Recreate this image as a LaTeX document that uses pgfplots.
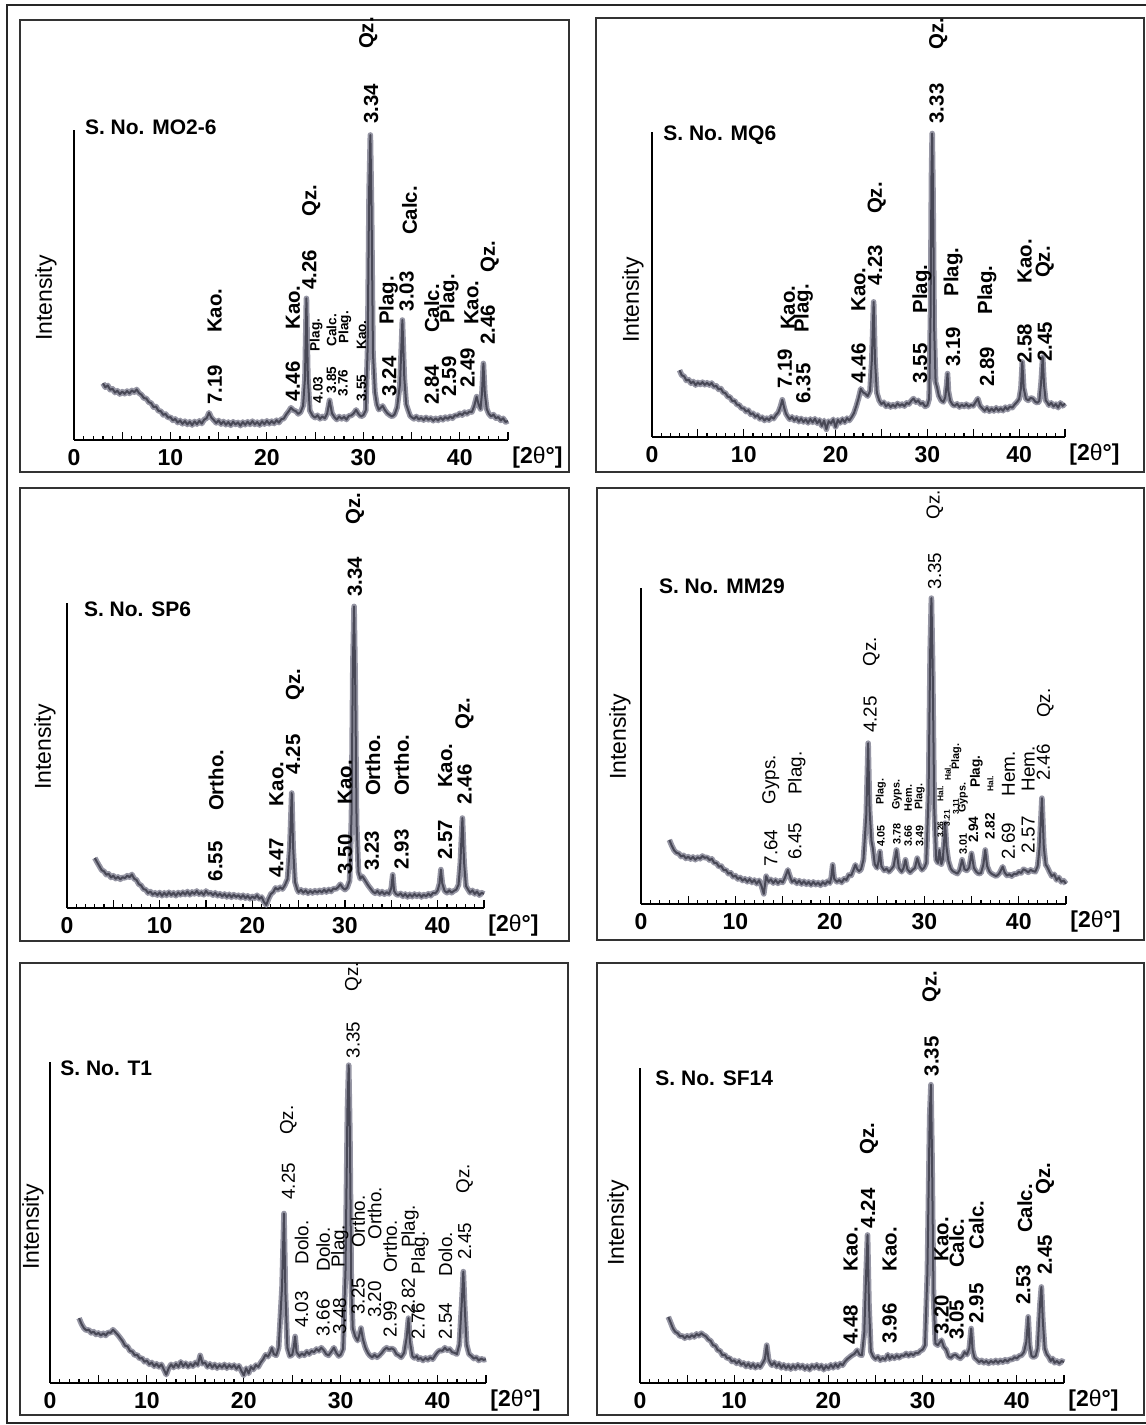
\documentclass[border=0pt]{standalone}
\usepackage{fontspec}
\setmainfont{Liberation Sans}
\usepackage{pgfplots}
\usepackage{pgfplotstable}
\pgfplotsset{compat=1.18}
\definecolor{cdark}{RGB}{72,72,86}
\definecolor{clight}{RGB}{150,150,164}

\pgfplotstableread[row sep=\\]{x y\\
3.0 18.3\\ 3.25 17.0\\ 3.5 17.6\\ 3.75 16.2\\ 4.0 16.5\\ 4.25 15.3\\ 4.5 15.9\\ 4.75 14.8\\ 5.0 15.6\\ 5.25 14.9\\ 5.5 15.8\\ 5.75 15.0\\ 6.0 16.0\\ 6.25 15.4\\ 6.5 16.3\\ 6.75 15.1\\ 7.0 14.6\\ 7.25 13.5\\ 7.5 13.4\\ 7.75 12.2\\ 8.0 11.9\\ 8.25 10.6\\ 8.5 10.8\\ 8.75 9.4\\ 9.0 9.3\\ 9.25 8.1\\ 9.5 8.4\\ 9.75 7.2\\ 10.0 7.4\\ 10.25 6.3\\ 10.5 6.8\\ 10.75 5.6\\ 11.0 6.3\\ 11.25 5.2\\ 11.5 6.1\\ 11.75 5.0\\ 12.0 5.9\\ 12.25 4.8\\ 12.5 6.0\\ 12.75 5.1\\ 13.0 6.2\\ 13.25 5.3\\ 13.5 6.6\\ 13.75 7.0\\ 14.0 8.8\\ 14.25 7.2\\ 14.5 6.4\\ 14.75 5.5\\ 15.0 6.3\\ 15.25 5.1\\ 15.5 6.0\\ 15.75 4.9\\ 16.0 5.8\\ 16.25 4.7\\ 16.5 5.9\\ 16.75 5.0\\ 17.0 5.7\\ 17.25 4.6\\ 17.5 5.8\\ 17.75 4.9\\ 18.0 5.9\\ 18.25 5.0\\ 18.5 6.1\\ 18.75 5.0\\ 19.0 5.8\\ 19.25 4.8\\ 19.5 6.0\\ 19.75 5.1\\ 20.0 6.2\\ 20.25 5.2\\ 20.5 6.1\\ 20.75 5.3\\ 21.0 6.4\\ 21.25 5.6\\ 21.5 6.7\\ 21.75 6.9\\ 22.0 8.2\\ 22.25 9.2\\ 22.5 10.4\\ 22.75 9.6\\ 23.0 9.3\\ 23.25 8.4\\ 23.5 9.0\\ 23.75 11.0\\ 23.95 20\\ 24.1 45.7\\ 24.25 20\\ 24.45 9.5\\ 24.75 7.8\\ 25.0 7.2\\ 25.25 8.0\\ 25.5 6.8\\ 25.75 7.6\\ 26.0 7.0\\ 26.25 8.5\\ 26.5 12.8\\ 26.75 8.6\\ 27.0 7.4\\ 27.25 6.6\\ 27.5 7.6\\ 27.75 6.8\\ 28.0 7.5\\ 28.25 6.6\\ 28.5 7.8\\ 28.75 7.9\\ 29.0 8.6\\ 29.25 9.7\\ 29.5 8.4\\ 29.75 7.6\\ 30.0 8.0\\ 30.25 9.5\\ 30.45 30\\ 30.6 80\\ 30.73 98.4\\ 30.85 75\\ 31.0 28\\ 31.2 15.5\\ 31.4 11.5\\ 31.6 9.8\\ 31.75 10.2\\ 32.0 11.0\\ 32.25 9.6\\ 32.5 8.6\\ 32.75 8.0\\ 33.0 7.6\\ 33.25 8.3\\ 33.5 10.5\\ 33.8 18\\ 34.05 38.7\\ 34.25 20\\ 34.45 11.5\\ 34.65 9.6\\ 34.85 7.8\\ 35.0 7.4\\ 35.25 6.8\\ 35.5 7.6\\ 35.75 6.6\\ 36.0 7.2\\ 36.25 6.4\\ 36.5 7.3\\ 36.75 6.5\\ 37.0 7.1\\ 37.25 6.2\\ 37.5 7.0\\ 37.75 6.3\\ 38.0 7.2\\ 38.25 6.5\\ 38.5 7.4\\ 38.75 6.8\\ 39.0 7.6\\ 39.25 7.0\\ 39.5 8.0\\ 39.75 7.8\\ 40.0 8.6\\ 40.25 8.0\\ 40.5 9.0\\ 40.75 8.4\\ 41.0 9.2\\ 41.25 9.0\\ 41.5 11.0\\ 41.75 14.0\\ 41.95 11.5\\ 42.15 10.0\\ 42.3 15\\ 42.45 24.7\\ 42.6 15\\ 42.8 10.0\\ 43.0 8.5\\ 43.25 7.6\\ 43.5 8.2\\ 43.75 7.0\\ 44.0 7.4\\ 44.25 6.3\\ 44.5 7.0\\ 44.75 5.8\\ 45.0 6.2\\
}\dA

\pgfplotstableread[row sep=\\]{x y\\
3.0 21.9\\ 3.25 20.2\\ 3.5 19.9\\ 3.75 18.5\\ 4.0 18.8\\ 4.25 17.6\\ 4.5 18.2\\ 4.75 17.0\\ 5.0 17.9\\ 5.25 17.2\\ 5.5 18.0\\ 5.75 17.1\\ 6.0 17.8\\ 6.25 17.0\\ 6.5 17.7\\ 6.75 16.5\\ 7.0 16.8\\ 7.25 15.6\\ 7.5 15.9\\ 7.75 14.6\\ 8.0 14.4\\ 8.25 13.2\\ 8.5 13.1\\ 8.75 11.8\\ 9.0 11.9\\ 9.25 10.6\\ 9.5 10.5\\ 9.75 9.4\\ 10.0 9.4\\ 10.25 8.3\\ 10.5 8.8\\ 10.75 7.4\\ 11.0 7.8\\ 11.25 6.6\\ 11.5 7.2\\ 11.75 5.9\\ 12.0 6.5\\ 12.25 5.4\\ 12.5 6.2\\ 12.75 5.5\\ 13.0 6.6\\ 13.25 6.0\\ 13.5 7.2\\ 13.75 8.0\\ 14.0 10.0\\ 14.2 12.2\\ 14.4 9.6\\ 14.6 7.6\\ 14.85 6.4\\ 15.0 5.8\\ 15.25 6.6\\ 15.5 5.4\\ 15.75 6.3\\ 16.0 5.0\\ 16.25 6.1\\ 16.5 4.9\\ 16.75 5.8\\ 17.0 4.6\\ 17.25 5.9\\ 17.5 4.8\\ 17.75 6.0\\ 18.0 4.5\\ 18.25 5.6\\ 18.5 3.6\\ 18.75 5.4\\ 19.0 2.5\\ 19.25 5.2\\ 19.5 4.4\\ 19.75 5.8\\ 20.0 3.2\\ 20.25 5.6\\ 20.5 4.6\\ 20.75 5.9\\ 21.0 4.8\\ 21.25 6.2\\ 21.5 5.4\\ 21.75 6.5\\ 22.0 7.8\\ 22.25 10.0\\ 22.5 12.6\\ 22.75 15.8\\ 23.0 14.6\\ 23.25 14.2\\ 23.5 13.4\\ 23.75 15.0\\ 23.95 25\\ 24.15 44.3\\ 24.3 25\\ 24.5 14.5\\ 24.75 12.0\\ 25.0 10.8\\ 25.25 11.4\\ 25.5 10.0\\ 25.75 10.8\\ 26.0 9.8\\ 26.25 10.6\\ 26.5 9.9\\ 26.75 11.0\\ 27.0 10.2\\ 27.25 10.8\\ 27.5 10.1\\ 27.75 11.2\\ 28.0 10.8\\ 28.25 11.9\\ 28.5 12.6\\ 28.75 11.4\\ 29.0 12.0\\ 29.25 10.8\\ 29.5 11.2\\ 29.75 10.0\\ 30.0 10.4\\ 30.2 12.5\\ 30.35 40\\ 30.45 85\\ 30.53 99.5\\ 30.62 80\\ 30.75 35\\ 30.9 18\\ 31.05 16.4\\ 31.25 13.5\\ 31.5 12.0\\ 31.75 11.5\\ 31.95 13.0\\ 32.1 17\\ 32.2 20.8\\ 32.3 15\\ 32.5 11.8\\ 32.75 10.6\\ 33.0 10.2\\ 33.25 10.9\\ 33.5 9.8\\ 33.75 10.6\\ 34.0 10.0\\ 34.25 10.8\\ 34.5 9.9\\ 34.75 10.5\\ 35.0 10.2\\ 35.25 11.4\\ 35.5 12.6\\ 35.75 10.2\\ 36.0 9.4\\ 36.25 8.6\\ 36.5 9.6\\ 36.75 8.4\\ 37.0 9.3\\ 37.25 8.5\\ 37.5 9.6\\ 37.75 8.6\\ 38.0 9.4\\ 38.25 8.6\\ 38.5 9.8\\ 38.75 9.0\\ 39.0 10.0\\ 39.25 9.6\\ 39.5 10.6\\ 39.75 11.4\\ 40.0 12.4\\ 40.2 16\\ 40.35 24.6\\ 40.5 16\\ 40.75 12.5\\ 41.0 12.0\\ 41.25 12.8\\ 41.5 12.6\\ 41.75 11.6\\ 42.0 11.2\\ 42.2 11.8\\ 42.4 18\\ 42.57 26.2\\ 42.72 17\\ 42.9 12.0\\ 43.1 11.2\\ 43.25 10.4\\ 43.5 11.2\\ 43.75 10.0\\ 44.0 10.8\\ 44.25 9.6\\ 44.5 11.2\\ 44.75 10.2\\ 45.0 11.0\\
}\dB

\pgfplotstableread[row sep=\\]{x y\\
3.0 16.4\\ 3.25 15.0\\ 3.5 13.7\\ 3.75 12.4\\ 4.0 12.0\\ 4.25 10.9\\ 4.5 11.2\\ 4.75 10.0\\ 5.0 10.6\\ 5.25 9.6\\ 5.5 10.2\\ 5.75 9.4\\ 6.0 10.1\\ 6.25 9.8\\ 6.5 10.6\\ 6.75 10.1\\ 7.0 11.0\\ 7.25 9.6\\ 7.5 9.2\\ 7.75 7.8\\ 8.0 7.4\\ 8.25 6.2\\ 8.5 6.0\\ 8.75 4.9\\ 9.0 5.4\\ 9.25 4.4\\ 9.5 5.0\\ 9.75 4.2\\ 10.0 5.1\\ 10.25 4.0\\ 10.5 5.0\\ 10.75 4.1\\ 11.0 5.2\\ 11.25 4.2\\ 11.5 5.0\\ 11.75 4.0\\ 12.0 5.1\\ 12.25 4.3\\ 12.5 5.2\\ 12.75 4.4\\ 13.0 5.4\\ 13.25 4.3\\ 13.5 5.3\\ 13.75 4.6\\ 14.0 5.6\\ 14.25 4.5\\ 14.5 5.2\\ 14.75 4.3\\ 15.0 5.6\\ 15.25 4.6\\ 15.5 5.0\\ 15.75 4.2\\ 16.0 5.0\\ 16.25 4.0\\ 16.5 4.7\\ 16.75 3.8\\ 17.0 4.6\\ 17.25 3.6\\ 17.5 4.5\\ 17.75 3.5\\ 18.0 4.4\\ 18.25 3.6\\ 18.5 4.2\\ 18.75 3.3\\ 19.0 4.2\\ 19.25 3.2\\ 19.5 4.0\\ 19.75 3.0\\ 20.0 3.8\\ 20.25 3.2\\ 20.5 4.2\\ 20.75 3.0\\ 21.0 3.6\\ 21.25 2.0\\ 21.5 1.0\\ 21.75 3.0\\ 22.0 4.6\\ 22.25 5.2\\ 22.5 6.6\\ 22.75 6.0\\ 23.0 6.8\\ 23.25 6.2\\ 23.5 7.4\\ 23.8 9.5\\ 24.05 20\\ 24.25 37.7\\ 24.4 20\\ 24.6 8.5\\ 24.85 6.0\\ 25.0 5.2\\ 25.25 6.0\\ 25.5 5.0\\ 25.75 5.8\\ 26.0 4.8\\ 26.25 5.6\\ 26.5 4.9\\ 26.75 5.7\\ 27.0 5.0\\ 27.25 5.8\\ 27.5 5.1\\ 27.75 6.0\\ 28.0 5.2\\ 28.25 6.1\\ 28.5 5.4\\ 28.75 6.4\\ 29.0 6.2\\ 29.25 6.8\\ 29.5 7.8\\ 29.75 6.6\\ 30.0 6.0\\ 30.25 6.8\\ 30.5 9.0\\ 30.7 30\\ 30.85 80\\ 30.98 98.9\\ 31.1 75\\ 31.25 28\\ 31.45 11.8\\ 31.65 9.6\\ 31.85 10.4\\ 32.0 9.8\\ 32.25 8.6\\ 32.5 7.4\\ 32.75 6.4\\ 33.0 5.4\\ 33.25 4.8\\ 33.5 5.6\\ 33.75 4.6\\ 34.0 5.4\\ 34.25 4.5\\ 34.5 5.2\\ 34.75 4.6\\ 35.0 6.6\\ 35.15 10.9\\ 35.3 5.6\\ 35.5 4.6\\ 35.75 4.2\\ 36.0 4.8\\ 36.25 3.8\\ 36.5 4.6\\ 36.75 3.6\\ 37.0 4.5\\ 37.25 3.7\\ 37.5 4.6\\ 37.75 3.8\\ 38.0 4.5\\ 38.25 3.6\\ 38.5 4.4\\ 38.75 3.8\\ 39.0 4.7\\ 39.25 4.0\\ 39.5 5.0\\ 39.75 4.8\\ 40.0 5.8\\ 40.2 8.0\\ 40.35 12.6\\ 40.5 8.0\\ 40.75 5.6\\ 41.0 5.0\\ 41.25 5.8\\ 41.5 5.0\\ 41.75 5.6\\ 42.0 6.0\\ 42.25 7.6\\ 42.45 15\\ 42.67 29.5\\ 42.85 15\\ 43.05 7.2\\ 43.25 6.2\\ 43.5 5.0\\ 43.75 5.8\\ 44.0 4.6\\ 44.25 5.4\\ 44.5 4.2\\ 44.75 5.0\\ 45.0 4.6\\
}\dC

\pgfplotstableread[row sep=\\]{x y\\
3.0 20.3\\ 3.25 18.5\\ 3.5 17.0\\ 3.75 16.2\\ 4.0 16.0\\ 4.25 15.0\\ 4.5 15.4\\ 4.75 14.4\\ 5.0 15.0\\ 5.25 14.2\\ 5.5 14.9\\ 5.75 14.0\\ 6.0 14.8\\ 6.25 14.3\\ 6.5 15.2\\ 6.75 14.6\\ 7.0 14.8\\ 7.25 13.9\\ 7.5 14.3\\ 7.75 13.0\\ 8.0 13.0\\ 8.25 11.8\\ 8.5 12.0\\ 8.75 10.7\\ 9.0 10.8\\ 9.25 9.6\\ 9.5 9.9\\ 9.75 8.6\\ 10.0 9.0\\ 10.25 7.9\\ 10.5 8.4\\ 10.75 7.4\\ 11.0 8.0\\ 11.25 7.0\\ 11.5 7.9\\ 11.75 6.8\\ 12.0 7.6\\ 12.25 6.4\\ 12.5 7.5\\ 12.75 5.8\\ 13.0 3.2\\ 13.25 8.8\\ 13.5 7.0\\ 13.75 7.8\\ 14.0 6.6\\ 14.25 7.6\\ 14.5 6.5\\ 14.75 7.4\\ 15.0 6.8\\ 15.25 8.4\\ 15.55 10.8\\ 15.85 8.0\\ 16.0 7.0\\ 16.25 7.6\\ 16.5 6.5\\ 16.75 7.4\\ 17.0 6.3\\ 17.25 7.2\\ 17.5 6.2\\ 17.75 7.0\\ 18.0 6.0\\ 18.25 7.0\\ 18.5 6.1\\ 18.75 6.8\\ 19.0 5.9\\ 19.25 6.9\\ 19.5 6.2\\ 19.75 7.2\\ 20.0 6.6\\ 20.15 8.5\\ 20.3 12.4\\ 20.45 8.0\\ 20.75 7.0\\ 21.0 7.6\\ 21.25 6.8\\ 21.5 8.0\\ 21.75 7.6\\ 22.0 9.2\\ 22.25 9.0\\ 22.5 10.8\\ 22.7 12.4\\ 22.9 11.0\\ 23.1 10.4\\ 23.3 11.0\\ 23.55 14\\ 23.85 28\\ 24.05 50.9\\ 24.2 30\\ 24.4 20\\ 24.55 17.6\\ 24.75 12.6\\ 25.0 11.4\\ 25.15 13.5\\ 25.3 16.6\\ 25.45 12.0\\ 25.75 10.6\\ 26.0 11.2\\ 26.25 10.2\\ 26.5 11.0\\ 26.75 12.0\\ 27.05 17.1\\ 27.3 11.4\\ 27.6 10.2\\ 27.8 11.4\\ 28.0 14.0\\ 28.2 11.0\\ 28.5 10.0\\ 28.75 10.8\\ 29.0 11.4\\ 29.25 14.5\\ 29.5 12.0\\ 29.75 10.8\\ 30.0 11.6\\ 30.2 13.0\\ 30.45 35\\ 30.62 80\\ 30.75 96.8\\ 30.88 75\\ 31.05 30\\ 31.25 14.0\\ 31.45 13.0\\ 31.6 17.1\\ 31.8 12.6\\ 31.95 14.0\\ 32.1 20\\ 32.2 25.6\\ 32.35 18\\ 32.55 13.6\\ 32.8 11.2\\ 33.0 10.4\\ 33.25 10.0\\ 33.5 9.6\\ 33.75 10.8\\ 34.0 14.0\\ 34.25 11.0\\ 34.5 10.6\\ 34.75 11.6\\ 35.0 16.0\\ 35.25 11.4\\ 35.5 10.2\\ 35.75 9.6\\ 36.0 9.8\\ 36.25 12.5\\ 36.45 17.1\\ 36.65 12.0\\ 36.9 10.2\\ 37.1 9.6\\ 37.35 9.2\\ 37.6 8.8\\ 37.85 9.4\\ 38.0 10.0\\ 38.3 11.8\\ 38.5 10.0\\ 38.75 9.0\\ 39.0 9.4\\ 39.25 8.8\\ 39.5 9.6\\ 39.75 9.4\\ 40.0 10.2\\ 40.25 9.8\\ 40.5 11.0\\ 40.75 10.6\\ 41.0 10.0\\ 41.25 10.8\\ 41.5 10.4\\ 41.75 10.2\\ 42.0 12.0\\ 42.2 18\\ 42.45 33.5\\ 42.65 18\\ 42.85 12.4\\ 43.0 11.8\\ 43.25 10.2\\ 43.5 8.8\\ 43.75 9.4\\ 44.0 7.6\\ 44.25 8.4\\ 44.5 7.0\\ 44.75 7.4\\ 45.0 6.4\\
}\dD

\pgfplotstableread[row sep=\\]{x y\\
3.0 20.2\\ 3.25 18.4\\ 3.5 17.1\\ 3.75 16.4\\ 4.0 16.6\\ 4.25 15.6\\ 4.5 16.0\\ 4.75 15.1\\ 5.0 15.6\\ 5.25 14.8\\ 5.5 15.5\\ 5.75 14.8\\ 6.0 15.8\\ 6.25 15.6\\ 6.5 16.6\\ 6.75 15.8\\ 7.0 15.0\\ 7.25 14.0\\ 7.5 13.0\\ 7.75 11.6\\ 8.0 11.4\\ 8.25 10.0\\ 8.5 9.8\\ 8.75 8.6\\ 9.0 8.8\\ 9.25 7.6\\ 9.5 7.8\\ 9.75 6.6\\ 10.0 7.0\\ 10.25 5.8\\ 10.5 6.4\\ 10.75 5.2\\ 11.0 6.0\\ 11.25 5.0\\ 11.5 5.8\\ 11.75 4.2\\ 12.0 2.6\\ 12.25 4.6\\ 12.5 5.8\\ 12.75 4.8\\ 13.0 6.0\\ 13.25 5.0\\ 13.5 6.6\\ 13.75 5.2\\ 14.0 6.2\\ 14.25 5.0\\ 14.5 6.0\\ 14.75 5.2\\ 15.0 6.4\\ 15.25 5.6\\ 15.5 8.6\\ 15.75 6.0\\ 16.0 6.4\\ 16.25 5.0\\ 16.5 6.0\\ 16.75 4.8\\ 17.0 5.8\\ 17.25 4.6\\ 17.5 5.6\\ 17.75 4.8\\ 18.0 5.8\\ 18.25 4.6\\ 18.5 5.6\\ 18.75 4.8\\ 19.0 5.6\\ 19.25 4.4\\ 19.5 5.4\\ 19.75 3.8\\ 20.0 2.4\\ 20.25 4.6\\ 20.5 3.0\\ 20.75 5.0\\ 21.0 4.2\\ 21.25 5.6\\ 21.5 5.0\\ 21.75 6.4\\ 22.0 7.4\\ 22.25 8.8\\ 22.5 8.2\\ 22.75 9.6\\ 22.9 10.9\\ 23.1 9.0\\ 23.35 8.6\\ 23.6 11\\ 23.95 30\\ 24.15 52.8\\ 24.3 28\\ 24.5 11\\ 24.75 8.4\\ 25.0 8.8\\ 25.15 11\\ 25.3 14.5\\ 25.45 9.6\\ 25.75 8.4\\ 26.0 9.2\\ 26.25 8.6\\ 26.5 9.8\\ 26.75 9.0\\ 27.0 10.0\\ 27.25 9.6\\ 27.5 10.6\\ 27.75 10.0\\ 28.0 11.0\\ 28.25 10.2\\ 28.5 9.0\\ 28.75 8.6\\ 29.0 9.6\\ 29.3 11.0\\ 29.55 9.4\\ 29.8 8.4\\ 30.0 8.8\\ 30.25 10.6\\ 30.5 35\\ 30.7 85\\ 30.83 99\\ 30.95 78\\ 31.1 30\\ 31.25 17\\ 31.5 14.5\\ 31.75 13.2\\ 31.9 14.6\\ 32.1 17.1\\ 32.3 13.6\\ 32.55 11.0\\ 32.8 9.4\\ 33.0 8.6\\ 33.25 8.0\\ 33.5 8.8\\ 33.75 8.0\\ 34.0 8.6\\ 34.25 9.4\\ 34.5 10.4\\ 34.75 11.0\\ 35.0 10.4\\ 35.25 10.8\\ 35.5 10.4\\ 35.75 9.0\\ 36.0 8.6\\ 36.25 8.0\\ 36.55 9.4\\ 36.8 14\\ 37.0 20.2\\ 37.15 13\\ 37.4 8.4\\ 37.6 7.8\\ 37.85 8.4\\ 38.0 7.4\\ 38.25 7.8\\ 38.5 7.0\\ 38.75 7.8\\ 39.0 7.2\\ 39.25 8.0\\ 39.5 7.4\\ 39.75 8.6\\ 40.0 9.6\\ 40.25 10.2\\ 40.5 10.0\\ 40.75 11.0\\ 41.0 10.2\\ 41.25 10.6\\ 41.5 9.6\\ 41.75 9.4\\ 42.0 9.0\\ 42.25 12\\ 42.5 25\\ 42.66 34.7\\ 42.8 24\\ 43.0 12\\ 43.25 9.0\\ 43.5 8.4\\ 43.75 7.6\\ 44.0 8.0\\ 44.25 7.0\\ 44.5 7.6\\ 44.75 7.2\\ 45.0 7.4\\
}\dE

\pgfplotstableread[row sep=\\]{x y\\
3.0 21.0\\ 3.25 19.2\\ 3.5 17.3\\ 3.75 16.2\\ 4.0 15.8\\ 4.25 14.8\\ 4.5 15.0\\ 4.75 14.2\\ 5.0 15.0\\ 5.25 14.4\\ 5.5 15.2\\ 5.75 14.6\\ 6.0 15.6\\ 6.25 15.0\\ 6.5 15.8\\ 6.75 15.2\\ 7.0 14.8\\ 7.25 13.8\\ 7.5 13.4\\ 7.75 12.0\\ 8.0 11.8\\ 8.25 10.4\\ 8.5 10.2\\ 8.75 8.8\\ 9.0 9.0\\ 9.25 7.8\\ 9.5 8.0\\ 9.75 6.8\\ 10.0 7.2\\ 10.25 6.2\\ 10.5 7.0\\ 10.75 5.8\\ 11.0 6.4\\ 11.25 5.2\\ 11.5 6.2\\ 11.75 5.0\\ 12.0 6.0\\ 12.25 4.8\\ 12.5 5.8\\ 12.75 5.0\\ 13.0 6.2\\ 13.25 7.6\\ 13.45 12.0\\ 13.65 7.4\\ 13.85 6.2\\ 14.0 5.6\\ 14.25 6.6\\ 14.5 5.2\\ 14.75 6.2\\ 15.0 4.8\\ 15.25 5.8\\ 15.5 4.6\\ 15.75 5.6\\ 16.0 4.4\\ 16.25 5.6\\ 16.5 4.6\\ 16.75 5.8\\ 17.0 4.8\\ 17.25 5.6\\ 17.5 4.4\\ 17.75 5.4\\ 18.0 4.2\\ 18.25 5.6\\ 18.5 4.8\\ 18.75 5.8\\ 19.0 4.6\\ 19.25 5.6\\ 19.5 4.2\\ 19.75 5.4\\ 20.0 4.6\\ 20.25 5.8\\ 20.5 4.8\\ 20.75 6.0\\ 21.0 5.0\\ 21.25 6.2\\ 21.5 5.6\\ 21.75 6.8\\ 22.0 7.6\\ 22.25 8.2\\ 22.5 8.8\\ 22.75 9.2\\ 23.05 10.4\\ 23.3 9.0\\ 23.55 8.8\\ 23.8 16\\ 24.0 35\\ 24.15 47\\ 24.3 25\\ 24.5 10\\ 24.75 8.4\\ 25.0 7.6\\ 25.25 8.4\\ 25.5 7.2\\ 25.75 8.0\\ 26.0 7.4\\ 26.3 9.0\\ 26.5 7.6\\ 26.75 8.6\\ 27.0 7.8\\ 27.25 8.8\\ 27.5 8.0\\ 27.75 8.8\\ 28.0 8.6\\ 28.25 9.4\\ 28.5 8.6\\ 28.75 9.4\\ 29.0 8.8\\ 29.25 9.6\\ 29.5 9.4\\ 29.75 10.2\\ 30.0 10.6\\ 30.25 12\\ 30.5 35\\ 30.75 85\\ 30.88 94.7\\ 31.0 70\\ 31.15 28\\ 31.35 12.5\\ 31.6 12.0\\ 31.8 12.8\\ 32.0 13.6\\ 32.25 11.4\\ 32.5 10.6\\ 32.75 8.4\\ 33.0 8.0\\ 33.25 8.8\\ 33.5 9.0\\ 33.75 8.2\\ 34.0 7.8\\ 34.25 8.6\\ 34.45 9.8\\ 34.7 9.0\\ 34.95 11\\ 35.15 17.3\\ 35.3 10.5\\ 35.5 8.0\\ 35.75 7.4\\ 36.0 6.6\\ 36.25 7.2\\ 36.5 6.4\\ 36.75 7.0\\ 37.0 6.2\\ 37.25 7.0\\ 37.5 6.4\\ 37.75 7.2\\ 38.0 6.4\\ 38.25 7.2\\ 38.5 6.6\\ 38.75 7.4\\ 39.0 6.8\\ 39.25 7.6\\ 39.5 7.4\\ 39.75 8.2\\ 40.0 7.8\\ 40.25 8.6\\ 40.5 8.8\\ 40.75 9.8\\ 41.0 13\\ 41.2 21.0\\ 41.35 12\\ 41.55 8.6\\ 41.75 8.2\\ 42.0 8.6\\ 42.2 11\\ 42.45 25\\ 42.6 30.5\\ 42.75 20\\ 42.95 11\\ 43.15 9.2\\ 43.4 8.2\\ 43.6 7.0\\ 43.8 7.8\\ 44.0 6.4\\ 44.25 7.0\\ 44.5 6.2\\ 44.75 7.0\\ 45.0 6.6\\
}\dF

\pgfplotsset{
  xrd/.style={
    anchor=south west, scale only axis,
    xmin=0, xmax=45, ymin=0, ymax=100, clip=false,
    axis x line=bottom, axis y line=left,
    axis line style={-, line width=1pt, black},
    ytick=\empty,
    xtick={0,5,...,45}, xticklabels={0,,10,,20,,30,,40,},
    minor x tick num=4,
    tick align=inside, major tick length=4pt, minor tick length=2.2pt,
    every tick/.style={black, line width=0.6pt},
    xticklabel style={font=\bfseries\fontsize{11.5}{12}\selectfont, yshift=-1pt},
    /pgf/number format/assume math mode=true,
  },
  halo/.style={clight, line width=2.8pt, line join=round, no marks},
  core/.style={cdark, line width=1.0pt, line join=round, no marks},
}
\tikzset{
  lb/.style={rotate=90, anchor=west, inner sep=0pt, font=\bfseries\fontsize{10.2}{10}\selectfont},
  lr/.style={rotate=90, anchor=west, inner sep=0pt, font=\fontsize{9.4}{10}\selectfont},
  ls/.style={rotate=90, anchor=west, inner sep=0pt, font=\bfseries\fontsize{6.8}{7}\selectfont},
  lt/.style={rotate=90, anchor=west, inner sep=0pt, font=\bfseries\fontsize{5.4}{5}\selectfont},
  lx/.style={rotate=90, anchor=west, inner sep=0pt, font=\bfseries\fontsize{4.2}{4}\selectfont},
  ttl/.style={anchor=west, inner sep=0pt, font=\bfseries\fontsize{10.5}{11}\selectfont},
  ylab/.style={rotate=90, inner sep=0pt, font=\fontsize{11.5}{12}\selectfont},
  unit/.style={anchor=west, inner sep=0pt, xshift=2pt, yshift=-9pt, font=\bfseries\fontsize{11.5}{12}\selectfont},
}

\begin{document}
\begin{tikzpicture}
\useasboundingbox (0pt,0pt) rectangle (573pt,712.5pt);
\draw[line width=1pt, black!85] (573pt,710pt) -- (3.5pt,710pt) -- (3.5pt,1pt) -- (573pt,1pt);
\draw[line width=1pt, black!80] (10pt,702.5pt) rectangle (284.5pt,476.5pt);
\draw[line width=1pt, black!80] (298pt,703.5pt) rectangle (572pt,476.5pt);
\draw[line width=1pt, black!80] (10pt,468.5pt) rectangle (284.5pt,242pt);
\draw[line width=1pt, black!80] (298.5pt,468.5pt) rectangle (572pt,242.5pt);
\draw[line width=1pt, black!80] (10pt,231pt) rectangle (284pt,5pt);
\draw[line width=1pt, black!80] (298.5pt,231pt) rectangle (572pt,5pt);

% Panel 1: MO2-6
\begin{axis}[xrd, at={(37pt,492.5pt)}, width=217pt, height=155pt]
\addplot[halo] table {\dA};
\addplot[core] table {\dA};
\node[ttl] at (axis cs:1.1,101) {S. No. MO2-6};
\node[unit] at (axis cs:45,0) {[2{\mdseries θ}°]};
\node[lb] at (axis cs:14.6,11.3) {7.19};
\node[lb] at (axis cs:14.6,34.4) {Kao.};
\node[lb] at (axis cs:22.7,12.4) {4.46};
\node[lb] at (axis cs:22.7,35.5) {Kao.};
\node[lb] at (axis cs:24.4,48.4) {4.26};
\node[lb] at (axis cs:24.6,72) {Qz.};
\node[ls] at (axis cs:25.3,11.8) {4.03};
\node[ls] at (axis cs:25.1,28.5) {Plag.};
\node[ls] at (axis cs:26.7,15) {3.85};
\node[ls] at (axis cs:26.7,30) {Calc.};
\node[ls] at (axis cs:27.9,14) {3.76};
\node[ls] at (axis cs:28.1,31) {Plag.};
\node[ls] at (axis cs:29.8,12.4) {3.55};
\node[ls] at (axis cs:29.8,29) {Kao.};
\node[lb] at (axis cs:30.8,102) {3.34};
\node[lb] at (axis cs:30.5,126) {Qz.};
\node[lb] at (axis cs:32.7,14) {3.24};
\node[lb] at (axis cs:32.6,37) {Plag.};
\node[lb] at (axis cs:34.5,41.4) {3.03};
\node[lb] at (axis cs:34.8,66) {Calc.};
\node[lb] at (axis cs:37.1,11.3) {2.84};
\node[lb] at (axis cs:37.1,34.4) {Calc.};
\node[lb] at (axis cs:38.9,14) {2.59};
\node[lb] at (axis cs:38.9,37.6) {Plag.};
\node[lb] at (axis cs:40.8,16.7) {2.49};
\node[lb] at (axis cs:41.2,37) {Kao.};
\node[lb] at (axis cs:42.9,30.6) {2.46};
\node[lb] at (axis cs:43.1,54) {Qz.};
\end{axis}

% Panel 2: MQ6
\begin{axis}[xrd, at={(326pt,494pt)}, width=206.5pt, height=152.5pt]
\addplot[halo] table {\dB};
\addplot[core] table {\dB};
\node[ttl] at (axis cs:1.2,98.9) {S. No. MQ6};
\node[unit] at (axis cs:45,0) {[2{\mdseries θ}°]};
\node[lb] at (axis cs:14.47,15.8) {7.19};
\node[lb] at (axis cs:14.8,35) {Kao.};
\node[lb] at (axis cs:16.5,10.9) {6.35};
\node[lb] at (axis cs:16.5,34) {Plag.};
\node[lb] at (axis cs:22.5,17.5) {4.46};
\node[lb] at (axis cs:22.5,41) {Kao.};
\node[lb] at (axis cs:24.3,49.7) {4.23};
\node[lb] at (axis cs:24.5,73) {Qz.};
\node[lb] at (axis cs:29.2,17.5) {3.55};
\node[lb] at (axis cs:29.4,40.4) {Plag.};
\node[lb] at (axis cs:31.0,102.7) {3.33};
\node[lb] at (axis cs:31.2,126.8) {Qz.};
\node[lb] at (axis cs:32.8,23) {3.19};
\node[lb] at (axis cs:32.8,46) {Plag.};
\node[lb] at (axis cs:36.5,16.4) {2.89};
\node[lb] at (axis cs:36.5,40) {Plag.};
\node[lb] at (axis cs:40.6,24) {2.58};
\node[lb] at (axis cs:40.6,50.3) {Kao.};
\node[lb] at (axis cs:42.8,24.6) {2.45};
\node[lb] at (axis cs:42.8,52) {Qz.};
\end{axis}

% Panel 3: SP6
\begin{axis}[xrd, at={(33.5pt,258.5pt)}, width=208.5pt, height=152.5pt]
\addplot[halo] table {\dC};
\addplot[core] table {\dC};
\node[ttl] at (axis cs:1.8,97.8) {S. No. SP6};
\node[unit] at (axis cs:45,0) {[2{\mdseries θ}°]};
\node[lb] at (axis cs:16.0,8.7) {6.55};
\node[lb] at (axis cs:16.1,31.7) {Ortho.};
\node[lb] at (axis cs:22.6,9.8) {4.47};
\node[lb] at (axis cs:22.6,33.3) {Kao.};
\node[lb] at (axis cs:24.4,43.7) {4.25};
\node[lb] at (axis cs:24.6,67.8) {Qz.};
\node[lb] at (axis cs:30.0,10.9) {3.50};
\node[lb] at (axis cs:30.0,33.9) {Kao.};
\node[lb] at (axis cs:31.07,102) {3.34};
\node[lb] at (axis cs:31.07,125.7) {Qz.};
\node[lb] at (axis cs:32.9,12) {3.23};
\node[lb] at (axis cs:33.0,36.6) {Ortho.};
\node[lb] at (axis cs:36.1,12.6) {2.93};
\node[lb] at (axis cs:36.1,36.6) {Ortho.};
\node[lb] at (axis cs:40.8,15.8) {2.57};
\node[lb] at (axis cs:40.8,39.3) {Kao.};
\node[lb] at (axis cs:42.9,33.9) {2.46};
\node[lb] at (axis cs:42.9,58.5) {Qz.};
\end{axis}

% Panel 4: MM29
\begin{axis}[xrd, at={(320.5pt,260.5pt)}, width=212.5pt, height=158pt]
\addplot[halo] table {\dD};
\addplot[core] table {\dD};
\node[ttl] at (axis cs:1.87,100.5) {S. No. MM29};
\node[unit] at (axis cs:45,0) {[2{\mdseries θ}°]};
\node[lr] at (axis cs:13.75,11.8) {7.64};
\node[lr] at (axis cs:13.75,31.4) {Gyps.};
\node[lr] at (axis cs:16.3,13.9) {6.45};
\node[lr] at (axis cs:16.5,34.5) {Plag.};
\node[lr] at (axis cs:24.26,54) {4.25};
\node[lr] at (axis cs:24.4,75) {Qz.};
\node[lt] at (axis cs:25.4,18.2) {4.05};
\node[lt] at (axis cs:25.4,31.4) {Plag.};
\node[lt] at (axis cs:27.1,18.7) {3.78};
\node[lt] at (axis cs:27.1,29.8) {Gyps.};
\node[lt] at (axis cs:28.3,18.2) {3.66};
\node[lt] at (axis cs:28.3,29.2) {Hem.};
\node[lt] at (axis cs:29.5,18.2) {3.49};
\node[lt] at (axis cs:29.5,29.8) {Plag.};
\node[lr] at (axis cs:31.1,99.5) {3.35};
\node[lr] at (axis cs:31.1,121.6) {Qz.};
\node[lx] at (axis cs:31.7,20.8) {3.26};
\node[lx] at (axis cs:31.7,32.4) {Hal.};
\node[lx] at (axis cs:32.4,24.5) {3.21};
\node[lx] at (axis cs:32.5,38.8) {Hal.};
\node[lt] at (axis cs:33.4,42.5) {Plag.};
\node[lx] at (axis cs:33.35,28.2) {3.11};
\node[lt] at (axis cs:34.1,15.5) {3.01};
\node[lt] at (axis cs:34.1,28.7) {Gyps.};
\node[ls] at (axis cs:35.2,19.2) {2.94};
\node[ls] at (axis cs:35.5,36.6) {Plag.};
\node[ls] at (axis cs:36.95,20.3) {2.82};
\node[lx] at (axis cs:37.0,35.6) {Hal.};
\node[lr] at (axis cs:38.9,13.9) {2.69};
\node[lr] at (axis cs:38.9,34) {Hem.};
\node[lr] at (axis cs:41.0,16) {2.57};
\node[lr] at (axis cs:41.0,35.6) {Hem.};
\node[lr] at (axis cs:42.6,38.8) {2.46};
\node[lr] at (axis cs:42.8,58.8) {Qz.};
\end{axis}

% Panel 5: T1
\begin{axis}[xrd, at={(25pt,21pt)}, width=218pt, height=160.5pt]
\addplot[halo] table {\dE};
\addplot[core] table {\dE};
\node[ttl] at (axis cs:1.03,98) {S. No. T1};
\node[unit] at (axis cs:45,0) {[2{\mdseries θ}°]};
\node[lr] at (axis cs:24.6,57) {4.25};
\node[lr] at (axis cs:24.6,77.2) {Qz.};
\node[lr] at (axis cs:25.97,17.1) {4.03};
\node[lr] at (axis cs:25.97,36.8) {Dolo.};
\node[lr] at (axis cs:28.2,14.5) {3.66};
\node[lr] at (axis cs:28.2,34.7) {Dolo.};
\node[lr] at (axis cs:29.9,15) {3.48};
\node[lr] at (axis cs:29.9,35.8) {Plag.};
\node[lr] at (axis cs:31.3,101) {3.35};
\node[lr] at (axis cs:31.3,121.8) {Qz.};
\node[lr] at (axis cs:31.8,21.2) {3.25};
\node[lr] at (axis cs:31.8,42) {Ortho.};
\node[lr] at (axis cs:33.5,20.2) {3.20};
\node[lr] at (axis cs:33.5,44.6) {Ortho.};
\node[lr] at (axis cs:35.1,14) {2.99};
\node[lr] at (axis cs:35.1,34.2) {Ortho.};
\node[lr] at (axis cs:37.0,21.2) {2.82};
\node[lr] at (axis cs:37.15,42) {Plag.};
\node[lr] at (axis cs:38.0,13.5) {2.76};
\node[lr] at (axis cs:38.2,33.7) {Plag.};
\node[lr] at (axis cs:40.8,13.5) {2.54};
\node[lr] at (axis cs:40.8,33.2) {Dolo.};
\node[lr] at (axis cs:42.8,38.3) {2.45};
\node[lr] at (axis cs:42.8,59) {Qz.};
\end{axis}

% Panel 6: SF14
\begin{axis}[xrd, at={(320pt,21pt)}, width=212pt, height=157.5pt]
\addplot[halo] table {\dF};
\addplot[core] table {\dF};
\node[ttl] at (axis cs:1.6,96.8) {S. No. SF14};
\node[unit] at (axis cs:45,0) {[2{\mdseries θ}°]};
\node[lb] at (axis cs:22.35,12) {4.48};
\node[lb] at (axis cs:22.35,35.3) {Kao.};
\node[lb] at (axis cs:24.2,49) {4.24};
\node[lb] at (axis cs:24.3,72.4) {Qz.};
\node[lb] at (axis cs:26.5,12.5) {3.96};
\node[lb] at (axis cs:26.5,35.3) {Kao.};
\node[lb] at (axis cs:30.95,97.3) {3.35};
\node[lb] at (axis cs:30.95,120.7) {Qz.};
\node[lb] at (axis cs:32.0,15.2) {3.20};
\node[lb] at (axis cs:32.0,38.5) {Kao.};
\node[lb] at (axis cs:33.6,13.6) {3.05};
\node[lb] at (axis cs:33.6,36.4) {Calc.};
\node[lb] at (axis cs:35.7,18.9) {2.95};
\node[lb] at (axis cs:35.7,42.2) {Calc.};
\node[lb] at (axis cs:40.7,24.7) {2.53};
\node[lb] at (axis cs:40.85,47.5) {Calc.};
\node[lb] at (axis cs:42.98,34.3) {2.45};
\node[lb] at (axis cs:42.98,59.7) {Qz.};
\end{axis}

\node[ylab] at (23pt,563.5pt) {Intensity};
\node[ylab] at (316.5pt,562.5pt) {Intensity};
\node[ylab] at (22.5pt,339pt) {Intensity};
\node[ylab] at (310pt,344pt) {Intensity};
\node[ylab] at (16.5pt,99pt) {Intensity};
\node[ylab] at (309pt,101pt) {Intensity};
\end{tikzpicture}
\end{document}
